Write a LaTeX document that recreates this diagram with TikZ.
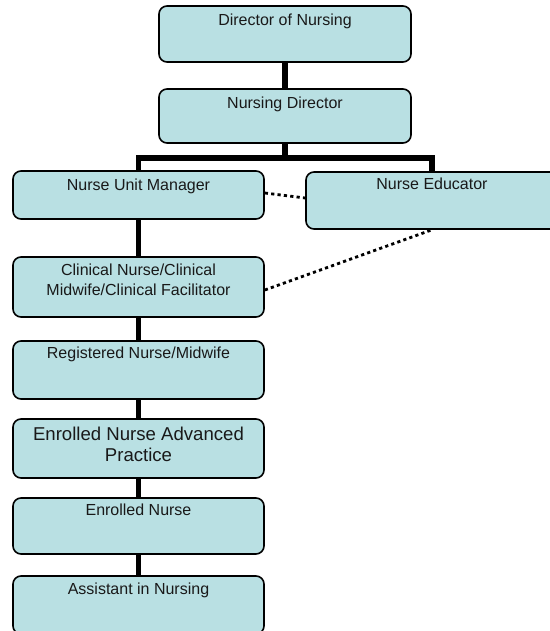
\documentclass[tikz,border=0pt]{standalone}
\usepackage{fontspec}
\setmainfont{Liberation Sans}
\usetikzlibrary{backgrounds}
\definecolor{boxfill}{RGB}{185,224,227}
\definecolor{ink}{RGB}{25,25,25}
\tikzset{
  orgbox/.style={draw=black, line width=1.6pt, fill=boxfill, rounded corners=8pt,
                 inner sep=0pt, minimum width=#1},
  orgbox/.default=251pt,
  lbl/.style={anchor=base, inner sep=0pt, text=ink, font=\fontsize{16}{20}\selectfont},
  biglbl/.style={anchor=base, inner sep=0pt, text=ink, font=\fontsize{18.6}{21}\selectfont},
  link/.style={line width=5.6pt, black},
  dotlink/.style={line width=2.8pt, black, dash pattern=on 3.2pt off 3.2pt}
}
\begin{document}
\begin{tikzpicture}[x=1pt, y=-1pt]
\useasboundingbox (0,0) rectangle (549,631);

% boxes of the hierarchy
\node[orgbox=252pt, minimum height=56pt] (don) at (285,34) {};
\node[orgbox=252pt, minimum height=54pt] (nd) at (285,116) {};
\node[orgbox, minimum height=48pt] (num) at (138.5,195) {};
\node[orgbox=252pt, minimum height=57pt] (ne) at (432,200.5) {};
\node[orgbox, minimum height=60pt] (cn) at (138.5,287) {};
\node[orgbox, minimum height=58pt] (rn) at (138.5,370) {};
\node[orgbox, minimum height=59pt] (enap) at (138.5,448.5) {};
\node[orgbox, minimum height=56pt] (en) at (138.5,526) {};
\node[orgbox, minimum height=58pt] (ain) at (138.5,605) {};

% titles, set near the top of each box
\node[lbl] (dont) at ([yshift=-20.5pt]don.north) {Director of Nursing};
\node[lbl] (ndt) at ([yshift=-20pt]nd.north) {Nursing Director};
\node[lbl] (numt) at ([yshift=-20pt]num.north) {Nurse Unit Manager};
\node[lbl] (net) at ([yshift=-18.5pt]ne.north) {Nurse Educator};
\node[lbl] (cnt) at ([yshift=-19.5pt]cn.north)
  {\begin{tabular}[t]{@{}c@{}}Clinical Nurse/Clinical\\Midwife/Clinical Facilitator\end{tabular}};
\node[lbl] (rnt) at ([yshift=-18.5pt]rn.north) {Registered Nurse/Midwife};
\node[biglbl] (enapt) at ([yshift=-22.5pt]enap.north)
  {\begin{tabular}[t]{@{}c@{}}Enrolled Nurse Advanced\\Practice\end{tabular}};
\node[lbl] (ent) at ([yshift=-18.5pt]en.north) {Enrolled Nurse};
\node[lbl] (aint) at ([yshift=-19pt]ain.north) {Assistant in Nursing};

\coordinate (bar) at (285,158);

\begin{scope}[on background layer]
  % solid reporting lines
  \draw[link] (don.south) -- (nd.north);
  \draw[link] (nd.south) -- (bar);
  \draw[link] (num.north) |- (bar) -| (ne.north);
  \draw[link] (num.south) -- (cn.north);
  \draw[link] (cn.south) -- (rn.north);
  \draw[link] (rn.south) -- (enap.north);
  \draw[link] (enap.south) -- (en.north);
  \draw[link] (en.south) -- (ain.north);
  % dotted links to the educator
  \draw[dotlink] ([yshift=2pt]num.east) -- ([yshift=2.5pt]ne.west);
  \draw[dotlink] ([yshift=-3pt]cn.east) -- (ne.south);
\end{scope}
\end{tikzpicture}
\end{document}
